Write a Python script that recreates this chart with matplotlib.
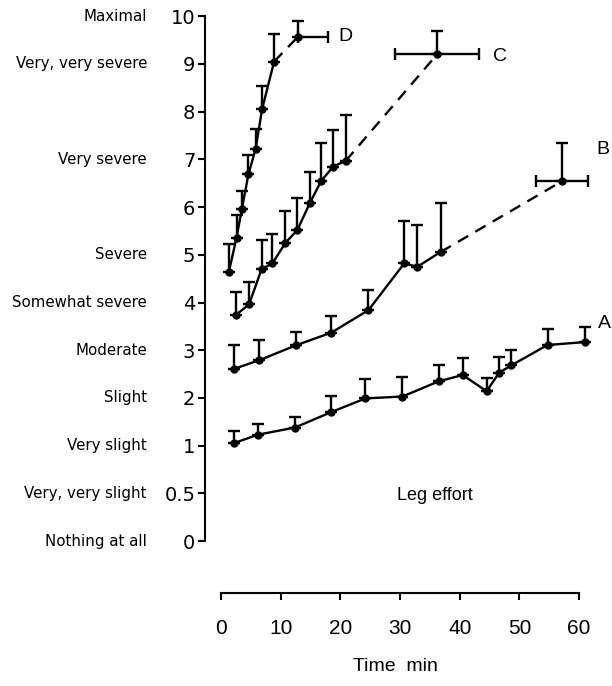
import numpy as np
import matplotlib
matplotlib.use('Agg')
import matplotlib.pyplot as plt
import matplotlib.transforms as mtransforms

plt.rcParams['font.family'] = ['Liberation Sans', 'DejaVu Sans']

# Borg CR10 scale (non-linear spacing below 1)
scale_vals = [0, 0.5, 1, 2, 3, 4, 5, 6, 7, 8, 9, 10]
scale_nums = ['0', '0.5', '1', '2', '3', '4', '5', '6', '7', '8', '9', '10']
scale_words = ['Nothing at all', 'Very, very slight', 'Very slight', 'Slight',
               'Moderate', 'Somewhat severe', 'Severe', '', 'Very severe', '',
               'Very, very severe', 'Maximal']

# A
A_t = [2.1, 6.2, 12.4, 18.4, 24.2, 30.4, 36.5, 40.5, 44.5, 46.6, 48.6, 54.7, 60.9]
A_v = [1.05, 1.23, 1.38, 1.70, 1.99, 2.03, 2.35, 2.48, 2.14, 2.53, 2.68, 3.11, 3.17]
A_e = [0.25, 0.22, 0.23, 0.35, 0.41, 0.41, 0.33, 0.36, 0.27, 0.33, 0.32, 0.33, 0.31]
# B
B_t = [2.2, 6.4, 12.5, 18.5, 24.7, 30.7, 32.9, 36.8]
B_v = [2.61, 2.79, 3.10, 3.37, 3.84, 4.82, 4.75, 5.06]
B_e = [0.50, 0.42, 0.28, 0.35, 0.42, 0.89, 0.88, 1.03]
B_end = (57.1, 6.54, 0.80, 4.3, 4.3)   # t, value, yerr, xerr left, xerr right
# C
C_t = [2.5, 4.7, 6.8, 8.6, 10.8, 12.8, 14.9, 16.8, 18.8, 20.9]
C_v = [3.74, 3.96, 4.70, 4.82, 5.25, 5.52, 6.09, 6.55, 6.85, 6.97]
C_e = [0.49, 0.48, 0.61, 0.61, 0.66, 0.68, 0.65, 0.80, 0.77, 0.95]
C_end = (36.2, 9.20, 0.50, 7.0, 7.0)
# D
D_t = [1.3, 2.6, 3.5, 4.6, 5.8, 6.9, 8.9]
D_v = [4.63, 5.36, 5.96, 6.69, 7.22, 8.06, 9.05]
D_e = [0.59, 0.48, 0.38, 0.40, 0.42, 0.48, 0.57]
D_end = (12.9, 9.57, 0.32, 0.0, 5.1)


def pos(v):
    v = np.asarray(v, dtype=float)
    return np.where(v < 1, 2 * v, v + 1)


fig = plt.figure(figsize=(6.12, 6.86), dpi=100)
ax = fig.add_axes([205 / 612, 93 / 686, 407 / 612, 593 / 686])

lw = 1.7
ms = 5
for t, v, e, end in [(A_t, A_v, A_e, None), (B_t, B_v, B_e, B_end),
                     (C_t, C_v, C_e, C_end), (D_t, D_v, D_e, D_end)]:
    t = np.array(t)
    v = np.array(v)
    e = np.array(e)
    y = pos(v)
    up = pos(v + e) - y
    ax.errorbar(t, y, yerr=[np.zeros_like(up), up], fmt='none', ecolor='black',
                elinewidth=lw, capsize=4.5, capthick=lw)
    ax.plot(t, y, '-', color='black', lw=lw, marker='o', ms=ms)
    if end is not None:
        et, ev, ee, xl, xr = end
        ey = pos(ev)
        ax.plot([t[-1], et], [y[-1], ey], color='black', lw=lw, dashes=(5, 3.5))
        ax.errorbar([et], [ey], yerr=[[0], [pos(ev + ee) - ey]], xerr=[[xl], [xr]],
                    fmt='o', color='black', ms=ms, elinewidth=lw, capsize=4.5, capthick=lw)

# series labels
ax.text(64.3, 4.57, 'A', fontsize=14, ha='center', va='center')
ax.text(64.0, 8.2, 'B', fontsize=14, ha='center', va='center')
ax.text(46.7, 10.15, 'C', fontsize=14, ha='center', va='center')
ax.text(20.8, 10.57, 'D', fontsize=14, ha='center', va='center')
ax.text(35.8, 0.96, 'Leg effort', fontsize=13, ha='center', va='center')

ax.set_xlim(-2.68, 65.5)
ax.set_ylim(-1.088, 11.34)
ax.spines['top'].set_visible(False)
ax.spines['right'].set_visible(False)
ax.spines['left'].set_bounds(0, 11)
ax.spines['bottom'].set_bounds(0, 60)
ax.spines['left'].set_linewidth(1.5)
ax.spines['bottom'].set_linewidth(1.5)

ax.set_xticks(range(0, 61, 10))
ax.tick_params(axis='x', direction='out', length=5, width=1.5, labelsize=15, pad=14)
ax.set_yticks(pos(scale_vals))
ax.set_yticklabels(scale_nums, family=['DejaVu Sans'])
ax.tick_params(axis='y', direction='out', length=5, width=1.5, labelsize=14, pad=2)

trans = mtransforms.blended_transform_factory(ax.transAxes, ax.transData)
for v, w in zip(scale_vals, scale_words):
    if w:
        ax.annotate(w, xy=(0, pos(v)), xycoords=trans, xytext=(-41.8, 0),
                    textcoords='offset points', ha='right', va='center',
                    fontsize=10.8, family=['DejaVu Sans'])

ax.set_xlabel('Time  min', fontsize=14)
ax.xaxis.set_label_coords(0.467, -0.11)

fig.savefig('out.png', dpi=100)
